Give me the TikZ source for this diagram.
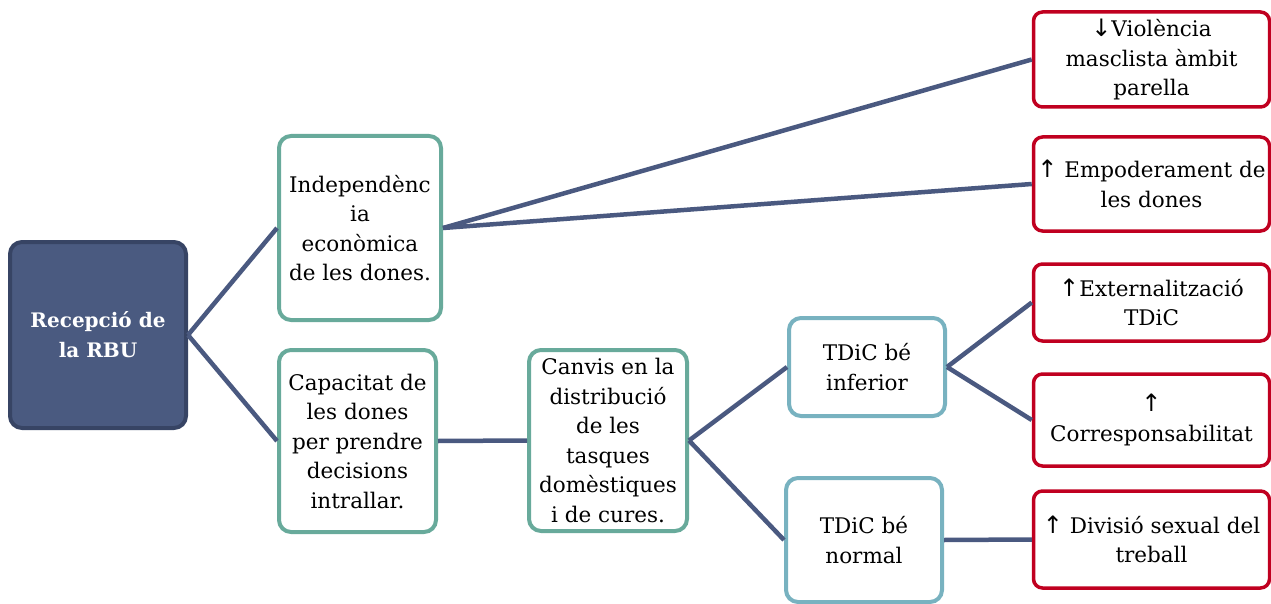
\documentclass[tikz,border=0pt]{standalone}
\usepackage{fontspec}
\setmainfont{DejaVu Serif}
\newfontfamily\arrowfont{DejaVu Sans}
\definecolor{lineblue}{RGB}{74,89,128}
\definecolor{rootfill}{RGB}{74,90,128}
\definecolor{rootdraw}{RGB}{55,68,100}
\definecolor{tealc}{RGB}{104,170,155}
\definecolor{lbluec}{RGB}{120,178,192}
\definecolor{redc}{RGB}{192,0,32}
\newcommand{\upar}{{\arrowfont\fontsize{24}{29}\selectfont ↑}}
\newcommand{\dnar}{{\arrowfont\fontsize{24}{29}\selectfont ↓}}
\tikzset{
  base/.style={rounded corners=12pt, line width=4pt, align=center, inner sep=0pt,
    font=\fontsize{21.5}{29.5}\selectfont, fill=white},
  rootbox/.style={base, draw=rootdraw, fill=rootfill, text=white, font=\bfseries\fontsize{20}{30}\selectfont},
  tealbox/.style={base, draw=tealc},
  lbluebox/.style={base, draw=lbluec},
  redbox/.style={base, draw=redc, line width=3.5pt, rounded corners=9pt},
  conn/.style={draw=lineblue, line width=4.5pt}
}
\begin{document}
\begin{tikzpicture}[x=1pt,y=-1pt]
\useasboundingbox (0,0) rectangle (1271,604);
\node[rootbox, minimum width=176pt, minimum height=186pt] (root) at (98,335) {Recepció de\\la RBU};
\node[tealbox, minimum width=162pt, minimum height=184pt] (ind) at (360,228) {Independènc\\ia\\econòmica\\de les dones.};
\node[tealbox, minimum width=157pt, minimum height=182pt] (cap) at (357.5,441) {Capacitat de\\les dones\\per prendre\\decisions\\intrallar.};
\node[tealbox, minimum width=158pt, minimum height=181pt] (can) at (608,440.5) {Canvis en la\\distribució\\de les\\tasques\\domèstiques\\i de cures.};
\node[lbluebox, minimum width=156pt, minimum height=98pt] (inf) at (867,367) {TDiC bé\\inferior};
\node[lbluebox, minimum width=156pt, minimum height=124pt] (nor) at (864,540) {TDiC bé\\normal};
\node[redbox, minimum width=236pt, minimum height=95pt] (vio) at (1151.5,59.5) {\dnar Violència\\masclista àmbit\\parella};
\node[redbox, minimum width=236pt, minimum height=94pt] (emp) at (1151.5,184) {\upar{} Empoderament de\\les dones};
\node[redbox, minimum width=236pt, minimum height=77pt] (ext) at (1151.5,302.5) {\upar Externalització\\TDiC};
\node[redbox, minimum width=236pt, minimum height=92pt] (cor) at (1151.5,420) {\upar\\Corresponsabilitat};
\node[redbox, minimum width=236pt, minimum height=97pt] (div) at (1151.5,539.5) {\upar{} Divisió sexual del\\treball};
\draw[conn] (root.east) -- (ind.west);
\draw[conn] (root.east) -- (cap.west);
\draw[conn] (ind.east) -- (vio.west);
\draw[conn] (ind.east) -- (emp.west);
\draw[conn] (cap.east) -- (can.west);
\draw[conn] (can.east) -- (inf.west);
\draw[conn] (can.east) -- (nor.west);
\draw[conn] (inf.east) -- (ext.west);
\draw[conn] (inf.east) -- (cor.west);
\draw[conn] (nor.east) -- (div.west);
\end{tikzpicture}
\end{document}
